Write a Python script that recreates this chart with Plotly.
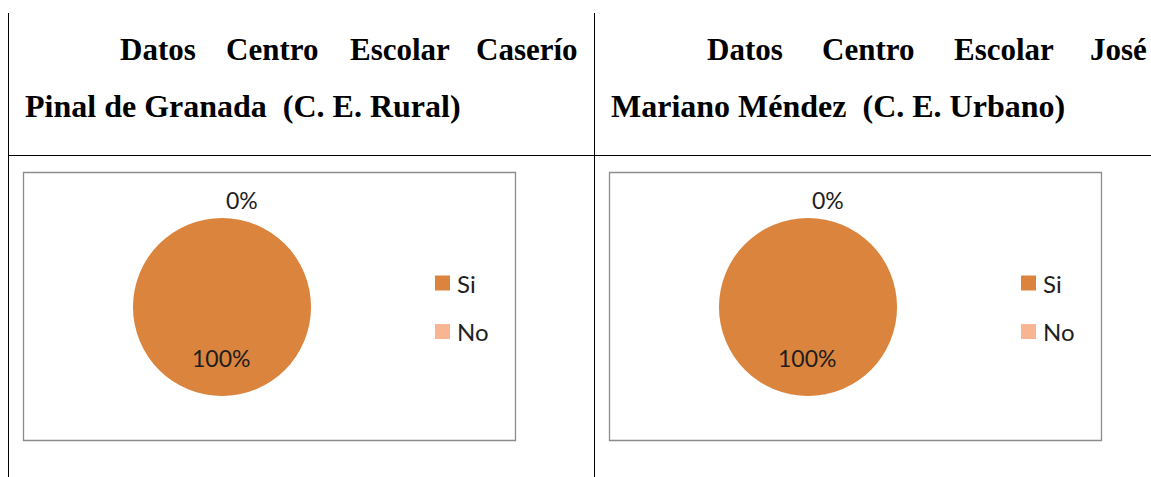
import plotly.graph_objects as go

# ---- data ----
categories = ["Si", "No"]
rural_values = [100, 0]
urbano_values = [100, 0]
slice_colors = ["#DB843D", "#F8B592"]

title_rural_line1 = ["Datos", "Centro", "Escolar", "Caserío"]
title_rural_line2 = "Pinal de Granada\u00a0\u00a0(C. E. Rural)"
title_urbano_line1 = ["Datos", "Centro", "Escolar", "José"]
title_urbano_line2 = "Mariano Méndez\u00a0\u00a0(C. E. Urbano)"

W, H = 1151, 477


def px(x):
    return x / W


def py(y):
    return 1 - y / H


def pct(values):
    tot = sum(values)
    return [f"{round(v * 100 / tot)}%" for v in values]


fig = go.Figure()

panels = [
    dict(values=rural_values, off=0, line1=title_rural_line1, line2=title_rural_line2,
         word_x=[118, 224, 348, 580]),
    dict(values=urbano_values, off=586, line1=title_urbano_line1, line2=title_urbano_line2,
         word_x=[705, 820, 952, 1149]),
]

shapes = []
annotations = []

# table lines
line_black = dict(color="black", width=1)
shapes.append(dict(type="line", xref="paper", yref="paper", x0=px(8.5), x1=px(8.5), y0=py(13), y1=py(477), line=line_black))
shapes.append(dict(type="line", xref="paper", yref="paper", x0=px(594.5), x1=px(594.5), y0=py(13), y1=py(477), line=line_black))
shapes.append(dict(type="line", xref="paper", yref="paper", x0=px(8), x1=px(1151), y0=py(155.5), y1=py(155.5), line=line_black))

title_font1 = dict(family="Liberation Serif", size=31, color="black")
title_font2 = dict(family="Liberation Serif", size=32, color="black")
label_font = dict(family="Lato", size=23, color="#1e1e1e")
legend_font = dict(family="Lato", size=24, color="#1e1e1e")

for p in panels:
    off = p["off"]
    cx, cy, r = 222 + off, 307, 89
    fig.add_trace(go.Pie(
        labels=categories, values=p["values"],
        marker=dict(colors=slice_colors, line=dict(width=0)),
        textinfo="none", sort=False, direction="clockwise", rotation=0,
        showlegend=False, hoverinfo="label+percent",
        domain=dict(x=[px(cx - r), px(cx + r)], y=[py(cy + r), py(cy - r)]),
    ))

    # chart area box
    shapes.append(dict(type="rect", xref="paper", yref="paper",
                       x0=px(23.5 + off), x1=px(515.5 + off), y0=py(172.5), y1=py(440.5),
                       line=dict(color="#8c8c8c", width=1.3), fillcolor="rgba(0,0,0,0)"))

    # data labels
    labels = pct(p["values"])
    label_pos = [(221 + off, 358), (242 + off, 200)]
    for txt, (lx, ly) in zip(labels, label_pos):
        annotations.append(dict(xref="paper", yref="paper", x=px(lx), y=py(ly), text=txt,
                                showarrow=False, xanchor="center", yanchor="middle", font=label_font))

    # legend
    for i, (cat, col) in enumerate(zip(categories, slice_colors)):
        ly = 283 + i * 48.5
        shapes.append(dict(type="rect", xref="paper", yref="paper",
                           x0=px(435 + off), x1=px(450 + off), y0=py(ly + 7.5), y1=py(ly - 7.5),
                           line=dict(width=0), fillcolor=col))
        annotations.append(dict(xref="paper", yref="paper", x=px(455 + off), y=py(ly), text=cat,
                                showarrow=False, xanchor="left", yanchor="middle", font=legend_font))

    # titles
    n = len(p["line1"])
    for j, (word, wx) in enumerate(zip(p["line1"], p["word_x"])):
        annotations.append(dict(xref="paper", yref="paper", x=px(wx), y=py(49),
                                text=f"<b>{word}</b>", showarrow=False,
                                xanchor="right" if j == n - 1 else "left", yanchor="middle",
                                font=title_font1))
    annotations.append(dict(xref="paper", yref="paper", x=px(23 + off), y=py(106),
                            text=f"<b>{p['line2']}</b>", showarrow=False,
                            xanchor="left", yanchor="middle", font=title_font2))

fig.update_layout(
    width=W, height=H,
    margin=dict(l=0, r=0, t=0, b=0),
    paper_bgcolor="white", plot_bgcolor="white",
    shapes=shapes, annotations=annotations,
)

fig.write_html("out.html", config={"displayModeBar": False},
               post_script="document.body.style.margin='0';")
